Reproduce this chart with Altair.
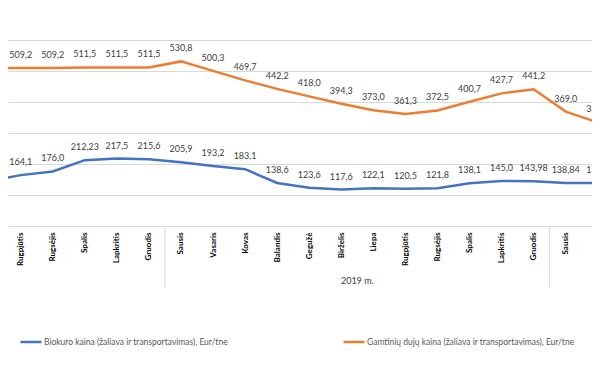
import altair as alt
import pandas as pd

months = ["Liepa", "Rugpjūtis", "Rugsėjis", "Spalis", "Lapkritis", "Gruodis",
          "Sausis", "Vasaris", "Kovas", "Balandis", "Gegužė", "Birželis", "Liepa",
          "Rugpjūtis", "Rugsėjis", "Spalis", "Lapkritis", "Gruodis", "Sausis", "Vasaris"]

bio = [144.0, 164.1, 176.0, 212.23, 217.5, 215.6, 205.9, 193.2, 183.1, 138.6,
       123.6, 117.6, 122.1, 120.5, 121.8, 138.1, 145.0, 143.98, 138.84, 138.6]
bio_lbl = ["", "164,1", "176,0", "212,23", "217,5", "215,6", "205,9", "193,2",
           "183,1", "138,6", "123,6", "117,6", "122,1", "120,5", "121,8", "138,1",
           "145,0", "143,98", "138,84", "138,6"]

gas = [509.2, 509.2, 509.2, 511.5, 511.5, 511.5, 530.8, 500.3, 469.7, 442.2,
       418.0, 394.3, 373.0, 361.3, 372.5, 400.7, 427.7, 441.2, 369.0, 334.0]
gas_lbl = ["", "509,2", "509,2", "511,5", "511,5", "511,5", "530,8", "500,3",
           "469,7", "442,2", "418,0", "394,3", "373,0", "361,3", "372,5", "400,7",
           "427,7", "441,2", "369,0", "334,0"]

s1 = "Biokuro kaina (žaliava ir transportavimas), Eur/tne"
s2 = "Gamtinių dujų kaina (žaliava ir transportavimas), Eur/tne"

year_sep = [5.5, 17.5]
year_lbl = ["2019 m."]
year_pos = [11.5]

rows = []
for i in range(len(months)):
    rows.append({"i": i, "series": s1, "v": bio[i], "lbl": bio_lbl[i]})
    rows.append({"i": i, "series": s2, "v": gas[i], "lbl": gas_lbl[i]})
df = pd.DataFrame(rows)

label_expr = "[" + ",".join("'" + m + "'" for m in months) + "][datum.value]"

xscale = alt.Scale(domain=[0.604, 18.82], nice=False, zero=False)
yscale = alt.Scale(domain=[0, 703], nice=False)

x_axis = alt.Axis(
    values=list(range(1, 19)), labelExpr=label_expr, labelAngle=270,
    labelAlign="right", labelBaseline="middle", labelFontWeight="bold",
    labelFontSize=8, labelFont="Lato", labelColor="#000000", labelPadding=6,
    ticks=False, grid=False, domainColor="#d9d9d9", title=None,
    labelOverlap=False, labelBound=False, labelFlush=False)
x_enc = alt.X("i:Q", scale=xscale, axis=x_axis)
y_enc = alt.Y("v:Q", scale=yscale, axis=alt.Axis(
    values=[100, 200, 300, 400, 500, 600], labels=False, ticks=False,
    domain=False, grid=True, gridColor="#d9d9d9", title=None))

color = alt.Color("series:N", scale=alt.Scale(domain=[s1, s2], range=["#4472C4", "#ED7D31"]),
                  legend=alt.Legend(orient="none", legendX=11, legendY=322,
                                    direction="horizontal", symbolType="stroke",
                                    symbolSize=441, symbolStrokeWidth=2.5,
                                    labelFontSize=8.5, labelFont="Lato",
                                    labelColor="#595959", columnPadding=110,
                                    title=None, labelLimit=400, labelOffset=1))

base = alt.Chart(df)
lines = base.mark_line(strokeWidth=2.5, clip=True).encode(x=x_enc, y=y_enc, color=color)
labels = base.mark_text(dy=-13, fontSize=9, font="Lato", color="#404040", clip=True).encode(
    x=alt.X("i:Q", axis=x_axis), y=alt.Y("v:Q"), text="lbl:N")

seps = alt.Chart(pd.DataFrame({"x": year_sep})).mark_rule(color="#d9d9d9", strokeWidth=1).encode(
    x=alt.X("x:Q", axis=x_axis), y=alt.value(218), y2=alt.value(280))
years = alt.Chart(pd.DataFrame({"x": year_pos, "t": year_lbl})).mark_text(
    fontSize=9, font="Lato", color="#404040").encode(
    x=alt.X("x:Q", axis=x_axis), y=alt.value(273), text="t:N")

chart = alt.layer(lines, labels, seps, years).properties(
    width=584, height=218, padding=0
).configure_view(strokeWidth=0).configure_axisX(labelOverlap=False)

chart.save("out.html", embed_options={"renderer": "svg", "actions": False})
